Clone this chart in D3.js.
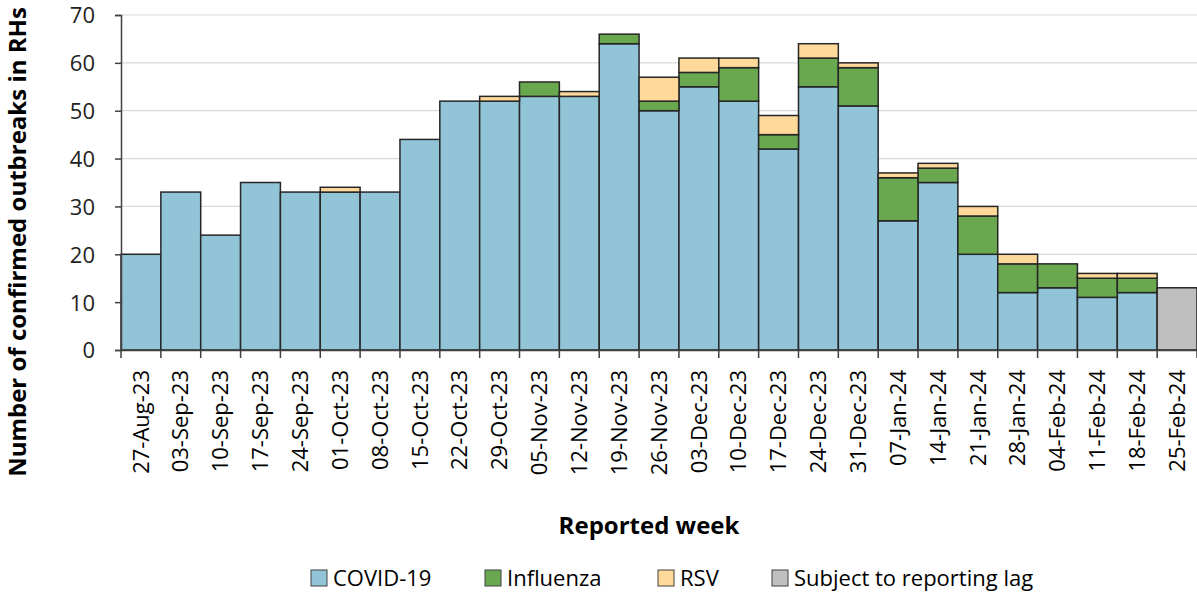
<!DOCTYPE html>
<html>
<head>
<meta charset="utf-8">
<script src="https://cdn.jsdelivr.net/npm/d3@7"></script>
<style>
  body { margin: 0; background: #fff; }
  svg text { font-family: "Open Sans", sans-serif; fill: #000; }
</style>
</head>
<body>
<div class="chart"></div>
<script>
"use strict";

const weeks = ["27-Aug-23", "03-Sep-23", "10-Sep-23", "17-Sep-23", "24-Sep-23", "01-Oct-23",
  "08-Oct-23", "15-Oct-23", "22-Oct-23", "29-Oct-23", "05-Nov-23", "12-Nov-23", "19-Nov-23",
  "26-Nov-23", "03-Dec-23", "10-Dec-23", "17-Dec-23", "24-Dec-23", "31-Dec-23", "07-Jan-24",
  "14-Jan-24", "21-Jan-24", "28-Jan-24", "04-Feb-24", "11-Feb-24", "18-Feb-24", "25-Feb-24"];
const covid = [20, 33, 24, 35, 33, 33, 33, 44, 52, 52, 53, 53, 64, 50, 55, 52, 42, 55, 51, 27, 35, 20, 12, 13, 11, 12, 0];
const influenza = [0, 0, 0, 0, 0, 0, 0, 0, 0, 0, 3, 0, 2, 2, 3, 7, 3, 6, 8, 9, 3, 8, 6, 5, 4, 3, 0];
const rsv = [0, 0, 0, 0, 0, 1, 0, 0, 0, 1, 0, 1, 0, 5, 3, 2, 4, 3, 1, 1, 1, 2, 2, 0, 1, 1, 0];
const lag = [0, 0, 0, 0, 0, 0, 0, 0, 0, 0, 0, 0, 0, 0, 0, 0, 0, 0, 0, 0, 0, 0, 0, 0, 0, 0, 13];
const yTicks = [0, 10, 20, 30, 40, 50, 60, 70];

const seriesKeys = ["covid", "influenza", "rsv", "lag"];
const seriesNames = ["COVID-19", "Influenza", "RSV", "Subject to reporting lag"];
const colors = ["#92C4D7", "#6AA84F", "#FFD99A", "#BFBFBF"];

const width = 1197;
const height = 593;
const margin = { left: 121, right: 0, top: 15, bottom: 243 };

const rows = weeks.map((w, i) => ({
  week: w, covid: covid[i], influenza: influenza[i], rsv: rsv[i], lag: lag[i]
}));

const svg = d3.select(".chart").append("svg")
  .attr("width", width)
  .attr("height", height);

const x = d3.scaleBand()
  .domain(weeks)
  .range([margin.left, width - margin.right])
  .padding(0);

const y = d3.scaleLinear()
  .domain([0, 70])
  .range([height - margin.bottom, margin.top]);

// gridlines
svg.append("g")
  .selectAll("line")
  .data(yTicks.filter((t) => t > 0))
  .enter()
  .append("line")
  .attr("x1", margin.left)
  .attr("x2", width - margin.right)
  .attr("y1", (d) => y(d))
  .attr("y2", (d) => y(d))
  .style("stroke", "#d9d9d9")
  .style("stroke-width", 1.2);

const stacked = d3.stack().keys(seriesKeys)(rows);

svg.append("g")
  .selectAll("g")
  .data(stacked)
  .enter()
  .append("g")
  .style("fill", (d, i) => colors[i])
  .selectAll("rect")
  .data((d) => d.filter((p) => p[1] - p[0] > 0))
  .enter()
  .append("rect")
  .attr("x", (d) => x(d.data.week))
  .attr("width", x.bandwidth())
  .attr("y", (d) => y(d[1]))
  .attr("height", (d) => y(d[0]) - y(d[1]))
  .style("stroke", "#262626")
  .style("stroke-width", 1.5);

// y axis
const yAxis = svg.append("g")
  .attr("transform", `translate(${margin.left},0)`)
  .call(d3.axisLeft(y).tickValues(yTicks).tickSize(6).tickPadding(20));
yAxis.select(".domain").style("stroke", "#404040").style("stroke-width", 1.5);
yAxis.selectAll(".tick line").style("stroke", "#404040").style("stroke-width", 1.5);
yAxis.selectAll("text").style("font-size", "22px").attr("dy", "0.36em").style("fill", "#222");

// x axis
const xAxis = svg.append("g")
  .attr("transform", `translate(0,${y(0)})`)
  .call(d3.axisBottom(x).tickSize(0));
xAxis.select(".domain").style("stroke", "#404040").style("stroke-width", 1.5);
xAxis.selectAll(".tick line").remove();
xAxis.selectAll(".tick text")
  .style("font-size", "22px")
  .attr("text-anchor", "end")
  .attr("transform", "rotate(-90)")
  .attr("x", -20)
  .attr("y", 0)
  .attr("dy", "0.35em");

// tick marks between categories
svg.append("g")
  .selectAll("line")
  .data(weeks.concat(["end"]))
  .enter()
  .append("line")
  .attr("x1", (d, i) => margin.left + i * x.bandwidth())
  .attr("x2", (d, i) => margin.left + i * x.bandwidth())
  .attr("y1", y(0))
  .attr("y2", y(0) + 8)
  .style("stroke", "#404040")
  .style("stroke-width", 1.5);

// axis titles
svg.append("text")
  .attr("transform", `translate(26,242) rotate(-90)`)
  .attr("text-anchor", "middle")
  .style("font-size", "24px")
  .style("font-weight", "bold")
  .text("Number of confirmed outbreaks in RHs");

svg.append("text")
  .attr("x", 649)
  .attr("y", 534)
  .attr("text-anchor", "middle")
  .style("font-size", "24px")
  .style("font-weight", "bold")
  .text("Reported week");

// legend
const legendX = [311, 485, 658, 772];
const legend = svg.append("g")
  .selectAll("g")
  .data(seriesNames)
  .enter()
  .append("g")
  .attr("transform", (d, i) => `translate(${legendX[i]},570)`);

legend.append("rect")
  .attr("width", 16)
  .attr("height", 16)
  .style("fill", (d, i) => colors[i])
  .style("stroke", "#404040")
  .style("stroke-width", 1);

legend.append("text")
  .attr("x", 22)
  .attr("y", 8)
  .attr("dy", "0.36em")
  .style("font-size", "22px")
  .text((d) => d);
</script>
</body>
</html>
